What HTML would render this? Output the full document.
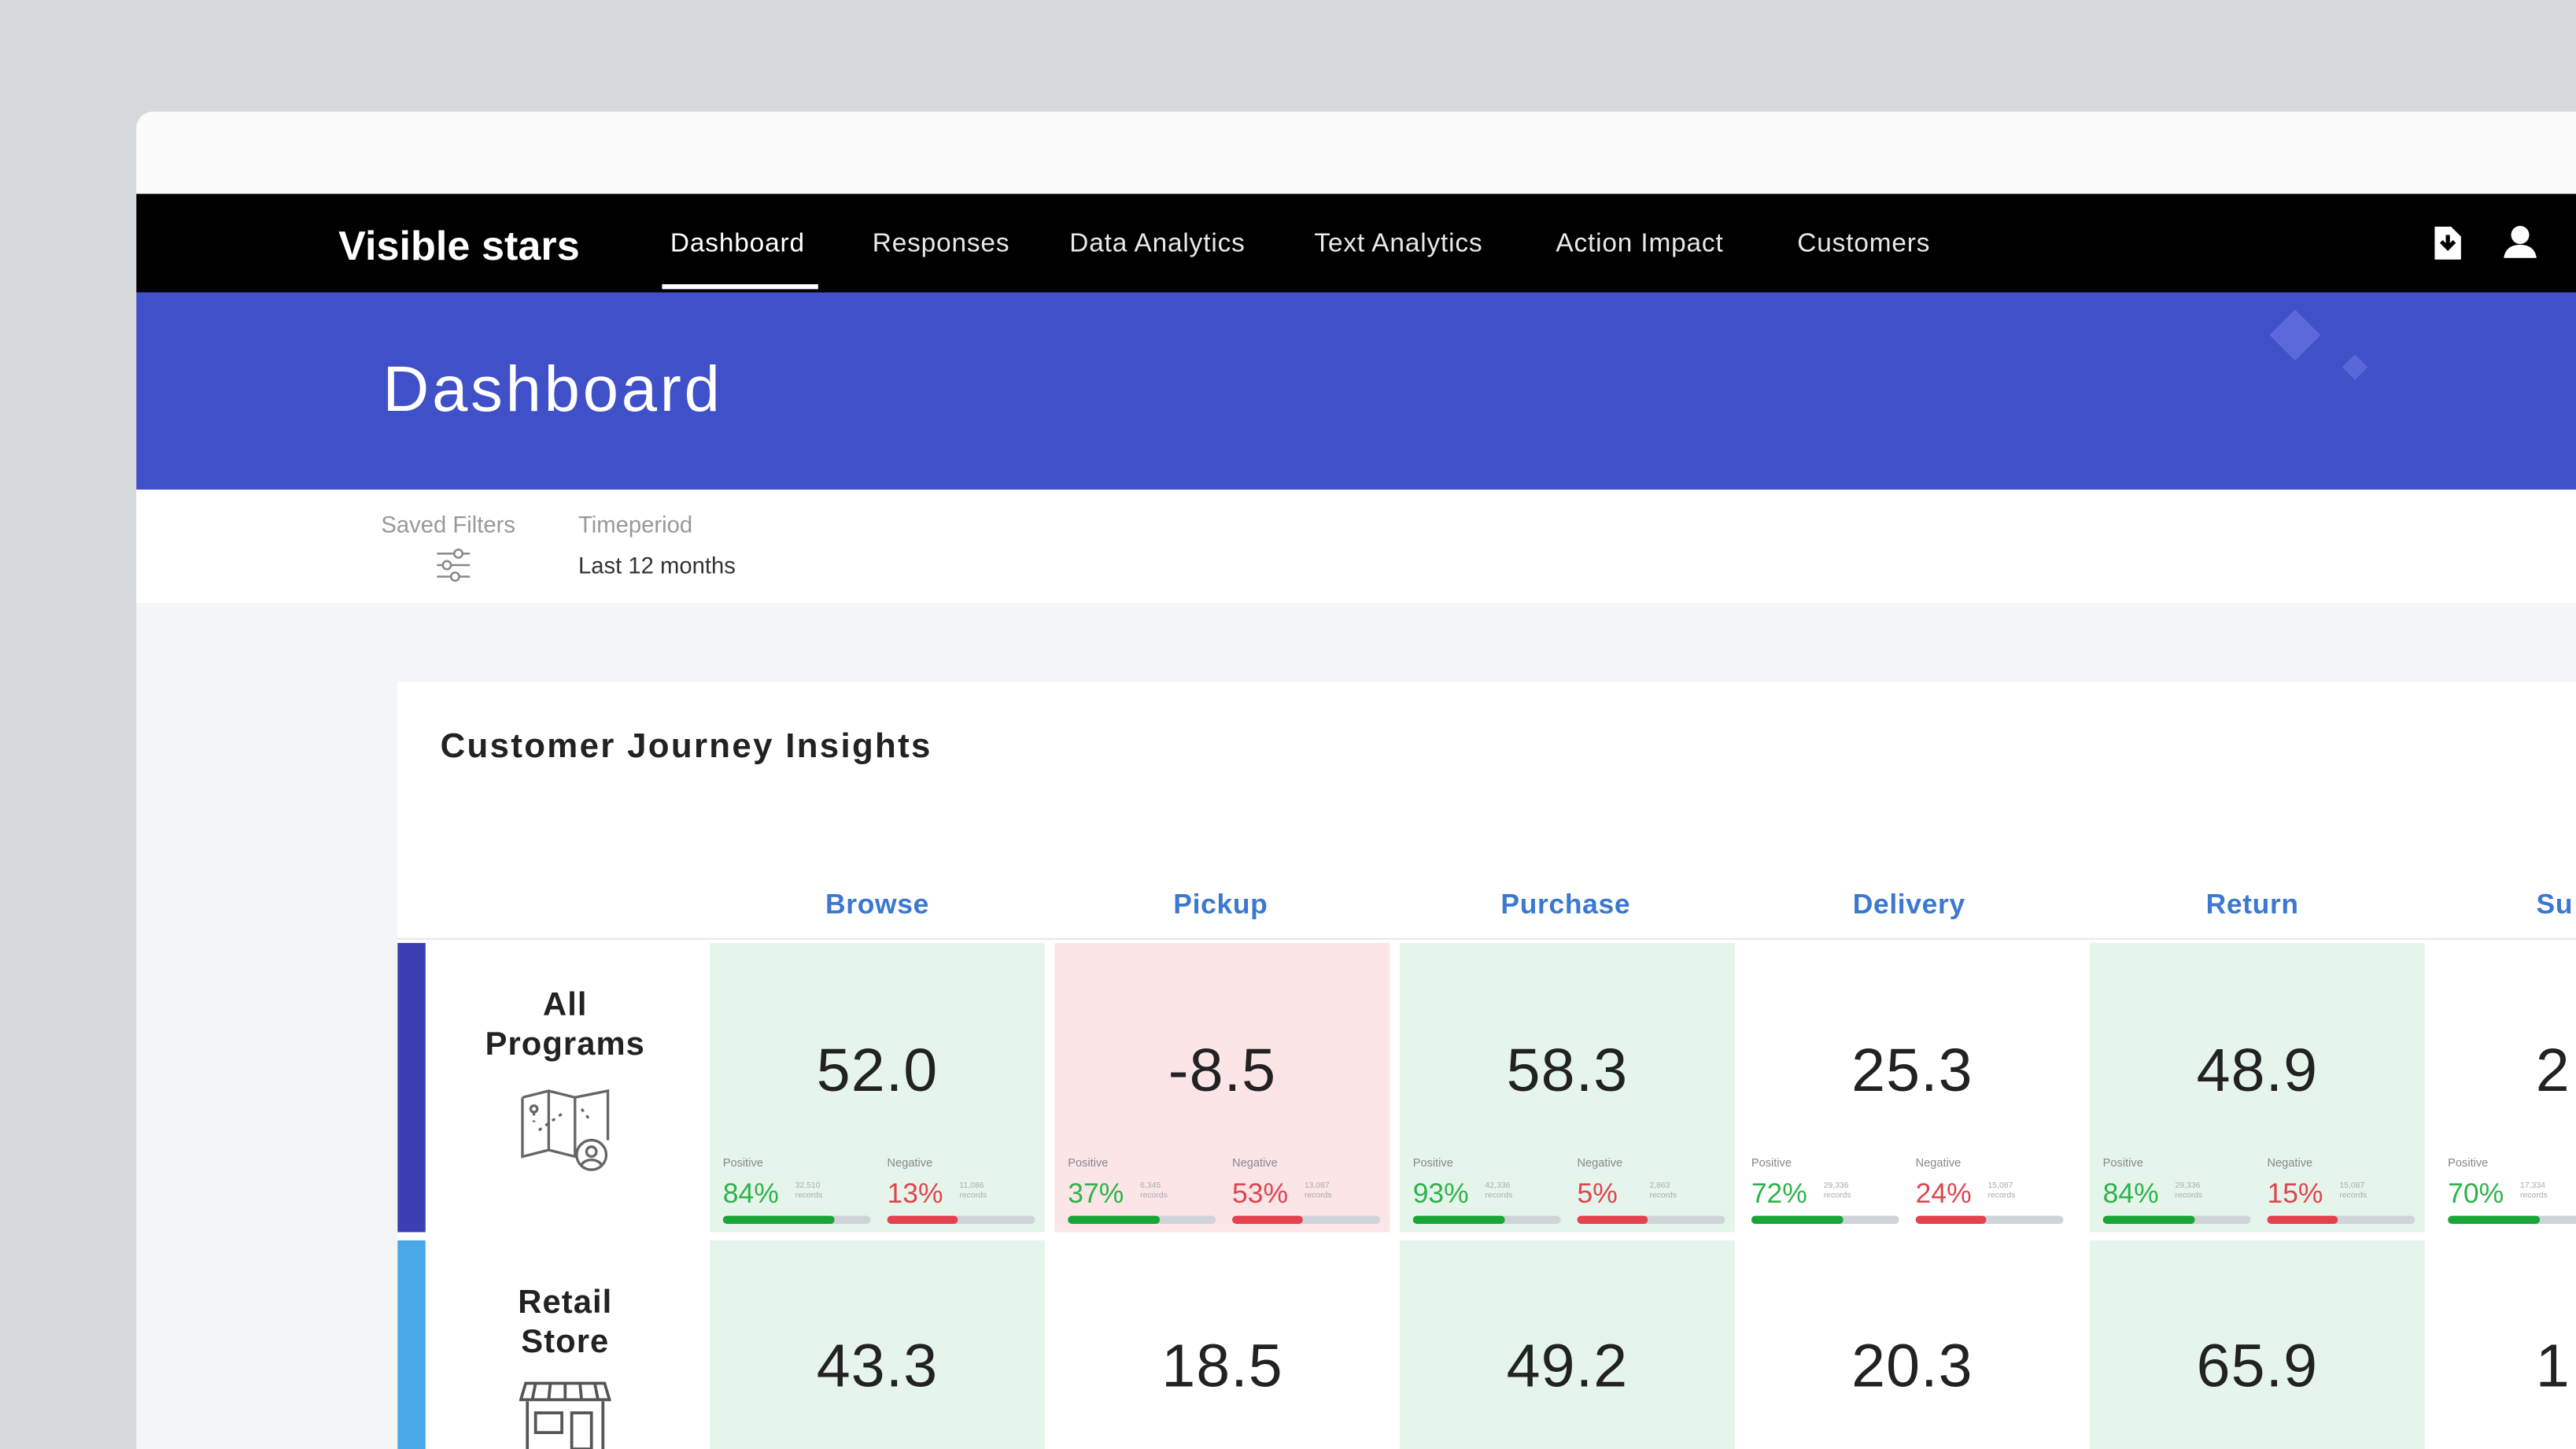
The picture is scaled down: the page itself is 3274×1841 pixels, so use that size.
<!DOCTYPE html>
<html><head><meta charset="utf-8"><style>
*{margin:0;padding:0;box-sizing:border-box}
html,body{width:3274px;height:1841px;overflow:hidden;background:#d6d9dc}
#s{position:absolute;left:0;top:0;width:1568px;height:882px;transform-origin:0 0;transform:scale(2.08801,2.08730);font-family:"Liberation Sans",sans-serif}
.a{position:absolute}
.nav{color:#e8e8e8;font-size:16px;top:140px;letter-spacing:0.4px}
.hd{color:#3b78d0;font-weight:bold;font-size:17px;top:541px;width:200px;text-align:center;letter-spacing:0.3px}
.c{position:absolute;width:204px}
.g{background:#e6f5ec}.p{background:#fbe5e7}.w{background:#fff}
.n{position:absolute;left:0;width:204px;text-align:center;font-size:37px;color:#222;letter-spacing:0.5px}
.m{position:absolute;top:131px;width:90px}
.m .l{font-size:7px;color:#888;position:absolute;top:0;left:0}
.m .v{font-size:17px;position:absolute;top:12px;left:0}
.m .r{font-size:5px;color:#aaa;position:absolute;top:14px;left:44px;line-height:6px}
.m .b{position:absolute;top:35px;left:0;width:90px;height:5px;background:#cfd4d9;border-radius:3px;overflow:hidden}
.m .b i{display:block;height:5px;border-radius:3px}
.pos .v{color:#2db34a}.pos i{background:#1aa636}
.neg .v{color:#e0444f}.neg i{background:#e5414f}
.rl{position:absolute;width:170px;left:259px;text-align:center;font-weight:bold;font-size:20px;line-height:24px;color:#222;letter-spacing:0.5px}
</style></head><body><div id="s">
<div class="a" style="left:83px;top:68px;width:1485px;height:814px;background:#f4f5f7;border-top-left-radius:10px;overflow:hidden">
 <div class="a" style="left:0;top:0;width:1485px;height:50px;background:#fbfbfb"></div>
</div>
<div class="a" style="left:83px;top:118px;width:1485px;height:60px;background:#000"></div>
<div class="a" style="left:206px;top:136px;color:#fff;font-weight:bold;font-size:25px">Visible stars</div>
<div class="a nav" style="left:408px;color:#fff">Dashboard</div>
<div class="a" style="left:403px;top:173px;width:95px;height:3px;background:#fff"></div>
<div class="a nav" style="left:531px">Responses</div>
<div class="a nav" style="left:651px">Data Analytics</div>
<div class="a nav" style="left:800px">Text Analytics</div>
<div class="a nav" style="left:947px">Action Impact</div>
<div class="a nav" style="left:1094px">Customers</div>
<svg class="a" style="left:1480px;top:137px" width="20" height="22" viewBox="0 0 20 22"><path d="M2 1h10l6 6v14H2z" fill="#fff"/><path d="M10 6v7M6 10l4 4 4-4" stroke="#000" stroke-width="2.5" fill="none"/></svg>
<svg class="a" style="left:1522px;top:136px" width="24" height="22" viewBox="0 0 24 22"><circle cx="12" cy="7" r="5.5" fill="#fff"/><path d="M2 21c1-6 5-8 10-8s9 2 10 8z" fill="#fff"/></svg>
<div class="a" style="left:83px;top:178px;width:1485px;height:120px;background:#4050c8"></div>
<div class="a" style="left:1386px;top:193px;width:22px;height:22px;background:#5a6adb;transform:rotate(45deg)"></div>
<div class="a" style="left:1428px;top:218px;width:11px;height:11px;background:#5868d8;transform:rotate(45deg)"></div>
<div class="a" style="left:233px;top:216px;color:#fff;font-size:39px;letter-spacing:1.8px">Dashboard</div>
<div class="a" style="left:83px;top:298px;width:1485px;height:69px;background:#fff"></div>
<div class="a" style="left:232px;top:311px;color:#999;font-size:14px">Saved Filters</div>
<div class="a" style="left:352px;top:311px;color:#999;font-size:14px">Timeperiod</div>
<div class="a" style="left:352px;top:336px;color:#333;font-size:14px">Last 12 months</div>
<svg class="a" style="left:264px;top:333px" width="24" height="22" viewBox="0 0 24 22" stroke="#888" fill="none" stroke-width="1.2"><path d="M2 4h20M2 11h20M2 18h20"/><circle cx="15" cy="4" r="2.5" fill="#fff"/><circle cx="8" cy="11" r="2.5" fill="#fff"/><circle cx="13" cy="18" r="2.5" fill="#fff"/></svg>
<div class="a" style="left:242px;top:415px;width:1326px;height:467px;background:#fff"></div>
<div class="a" style="left:268px;top:443px;font-weight:bold;font-size:21px;color:#222;letter-spacing:1.1px">Customer Journey Insights</div>
<div class="a hd" style="left:434px">Browse</div>
<div class="a hd" style="left:643px">Pickup</div>
<div class="a hd" style="left:853px">Purchase</div>
<div class="a hd" style="left:1062px">Delivery</div>
<div class="a hd" style="left:1271px">Return</div>
<div class="a hd" style="left:1455px">Su</div>
<div class="a" style="left:242px;top:571px;width:1326px;height:1px;background:#e6e8eb"></div>
<div class="a" style="left:242px;top:574px;width:17px;height:176px;background:#3c3fb3"></div>
<div class="a" style="left:242px;top:755px;width:17px;height:127px;background:#4aa8e8"></div>
<div class="rl" style="top:600px">All<br>Programs</div>
<svg class="a" style="left:316px;top:663px" width="58" height="52" viewBox="0 0 58 52" stroke="#666" fill="none" stroke-width="1.6"><path d="M2 5l16-4 16 4 20-4v30M2 5v36l16-4 16 4 8-2M18 1v36M34 5v36"/><circle cx="44" cy="40" r="9" fill="#fff"/><circle cx="44" cy="38" r="3"/><path d="M38 46c2-4 10-4 12 0"/><circle cx="9" cy="12" r="2"/><path d="M9 14v6M12 25l14-10M38 12l6 8" stroke-dasharray="2 3"/></svg>
<div class="rl" style="top:781px">Retail<br>Store</div>
<svg class="a" style="left:316px;top:840px" width="56" height="42" viewBox="0 0 56 42" stroke="#555" fill="none" stroke-width="1.8"><path d="M4 2h48l3 10H1z"/><path d="M10 2l-2 10M19 2l-1 10M28 2v10M37 2l1 10M46 2l2 10"/><path d="M5 13v29M51 13v29"/><rect x="10" y="20" width="16" height="12"/><rect x="32" y="20" width="12" height="22"/></svg>

<!-- row1 -->
<div class="c g" style="left:432px;top:574px;height:176px"><div class="n" style="top:57px">52.0</div>
 <div class="m pos" style="left:8px"><span class="l">Positive</span><span class="v">84%</span><span class="r">32,510<br>records</span><div class="b"><i style="width:68px"></i></div></div>
 <div class="m neg" style="left:108px"><span class="l">Negative</span><span class="v">13%</span><span class="r">11,086<br>records</span><div class="b"><i style="width:43px"></i></div></div></div>
<div class="c p" style="left:642px;top:574px;height:176px"><div class="n" style="top:57px">-8.5</div>
 <div class="m pos" style="left:8px"><span class="l">Positive</span><span class="v">37%</span><span class="r">6,345<br>records</span><div class="b"><i style="width:56px"></i></div></div>
 <div class="m neg" style="left:108px"><span class="l">Negative</span><span class="v">53%</span><span class="r">13,087<br>records</span><div class="b"><i style="width:43px"></i></div></div></div>
<div class="c g" style="left:852px;top:574px;height:176px"><div class="n" style="top:57px">58.3</div>
 <div class="m pos" style="left:8px"><span class="l">Positive</span><span class="v">93%</span><span class="r">42,336<br>records</span><div class="b"><i style="width:56px"></i></div></div>
 <div class="m neg" style="left:108px"><span class="l">Negative</span><span class="v">5%</span><span class="r">2,863<br>records</span><div class="b"><i style="width:43px"></i></div></div></div>
<div class="c w" style="left:1062px;top:574px;height:176px"><div class="n" style="top:57px">25.3</div>
 <div class="m pos" style="left:4px"><span class="l">Positive</span><span class="v">72%</span><span class="r">29,336<br>records</span><div class="b"><i style="width:56px"></i></div></div>
 <div class="m neg" style="left:104px"><span class="l">Negative</span><span class="v">24%</span><span class="r">15,087<br>records</span><div class="b"><i style="width:43px"></i></div></div></div>
<div class="c g" style="left:1272px;top:574px;height:176px"><div class="n" style="top:57px">48.9</div>
 <div class="m pos" style="left:8px"><span class="l">Positive</span><span class="v">84%</span><span class="r">29,336<br>records</span><div class="b"><i style="width:56px"></i></div></div>
 <div class="m neg" style="left:108px"><span class="l">Negative</span><span class="v">15%</span><span class="r">15,087<br>records</span><div class="b"><i style="width:43px"></i></div></div></div>
<div class="c w" style="left:1482px;top:574px;height:176px"><div class="n" style="top:57px;left:-30px">2</div>
 <div class="m pos" style="left:8px"><span class="l">Positive</span><span class="v">70%</span><span class="r">17,334<br>records</span><div class="b"><i style="width:56px"></i></div></div></div>
<!-- row2 -->
<div class="c g" style="left:432px;top:755px;height:127px"><div class="n" style="top:56px">43.3</div></div>
<div class="c w" style="left:642px;top:755px;height:127px"><div class="n" style="top:56px">18.5</div></div>
<div class="c g" style="left:852px;top:755px;height:127px"><div class="n" style="top:56px">49.2</div></div>
<div class="c w" style="left:1062px;top:755px;height:127px"><div class="n" style="top:56px">20.3</div></div>
<div class="c g" style="left:1272px;top:755px;height:127px"><div class="n" style="top:56px">65.9</div></div>
<div class="c w" style="left:1482px;top:755px;height:127px"><div class="n" style="top:56px;left:-30px">1</div></div>
</div></body></html>
